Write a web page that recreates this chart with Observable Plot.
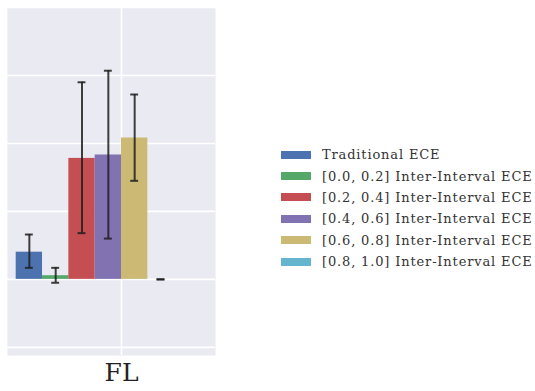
<!DOCTYPE html>
<html><head><meta charset="utf-8">
<script src="https://cdn.jsdelivr.net/npm/d3@7"></script>
<script src="https://cdn.jsdelivr.net/npm/@observablehq/plot@0.6"></script>
<style>
body{margin:0;background:#fff;}
#wrap{position:relative;width:535px;height:391px;overflow:hidden;font-family:"DejaVu Serif",serif;}
#legend{position:absolute;left:281px;top:144px;font-size:13px;letter-spacing:0.85px;color:#333;}
.row{display:flex;align-items:center;height:21.4px;white-space:nowrap;}
.sw{width:30px;height:8px;margin-right:11px;}
</style></head>
<body><div id="wrap"><div id="chart"></div><div id="legend"></div></div>
<script>
const category = "FL";
const series = ["Traditional ECE","[0.0, 0.2] Inter-Interval ECE","[0.2, 0.4] Inter-Interval ECE","[0.4, 0.6] Inter-Interval ECE","[0.6, 0.8] Inter-Interval ECE","[0.8, 1.0] Inter-Interval ECE"];
const values = [0.40, 0.054, 1.78, 1.83, 2.08, 0.0];
const errLow = [0.17, -0.05, 0.68, 0.60, 1.45, 0.0];
const errHigh = [0.66, 0.17, 2.90, 3.07, 2.72, 0.0];
const colors = ["#4C72B0","#55A868","#C44E52","#8172B2","#CCB974","#64B5CD"];
const yTicks = [-1, 0, 1, 2, 3, 4];

const data = series.map((s,i)=>({s, i, v: values[i], lo: errLow[i], hi: errHigh[i]}));
const capHalf = 0.15;

const chart = Plot.plot({
  width: 535, height: 391,
  marginLeft: 7, marginRight: 320, marginTop: 7, marginBottom: 36,
  style: {fontFamily: "DejaVu Serif, serif", background: "transparent"},
  x: {type: "linear", domain: [-0.33, 7.57], axis: null},
  y: {domain: [-1.12, 4.0], axis: null},
  color: {domain: series, range: colors},
  marks: [
    Plot.frame({fill: "#EAEAF2", stroke: null}),
    Plot.ruleY(yTicks, {stroke: "#fff", strokeWidth: 1.6}),
    Plot.ruleX([4], {stroke: "#fff", strokeWidth: 1.6}),
    Plot.rectY(data, {x1: d=>d.i, x2: d=>d.i+1, y1: 0, y2: "v", fill: "s"}),
    Plot.ruleX(data, {x: d=>d.i+0.5, y1: "lo", y2: "hi", stroke: "#1f1f1f", strokeOpacity: 0.85, strokeWidth: 2}),
    Plot.ruleY(data, {y: "hi", x1: d=>d.i+0.5-capHalf, x2: d=>d.i+0.5+capHalf, stroke: "#1f1f1f", strokeOpacity: 0.85, strokeWidth: 2}),
    Plot.ruleY(data, {y: "lo", x1: d=>d.i+0.5-capHalf, x2: d=>d.i+0.5+capHalf, stroke: "#1f1f1f", strokeOpacity: 0.85, strokeWidth: 2}),
    Plot.axisX({ticks: [4], tickFormat: () => category, tickSize: 0, tickPadding: 8, fontSize: 25, fill: "#222", anchor: "bottom", label: null})
  ]
});
document.getElementById("chart").appendChild(chart);

const leg = document.getElementById("legend");
series.forEach((s,i)=>{
  const r = document.createElement("div"); r.className="row";
  const sw = document.createElement("div"); sw.className="sw"; sw.style.background = colors[i];
  const t = document.createElement("span"); t.textContent = s;
  r.appendChild(sw); r.appendChild(t); leg.appendChild(r);
});
</script></body></html>
